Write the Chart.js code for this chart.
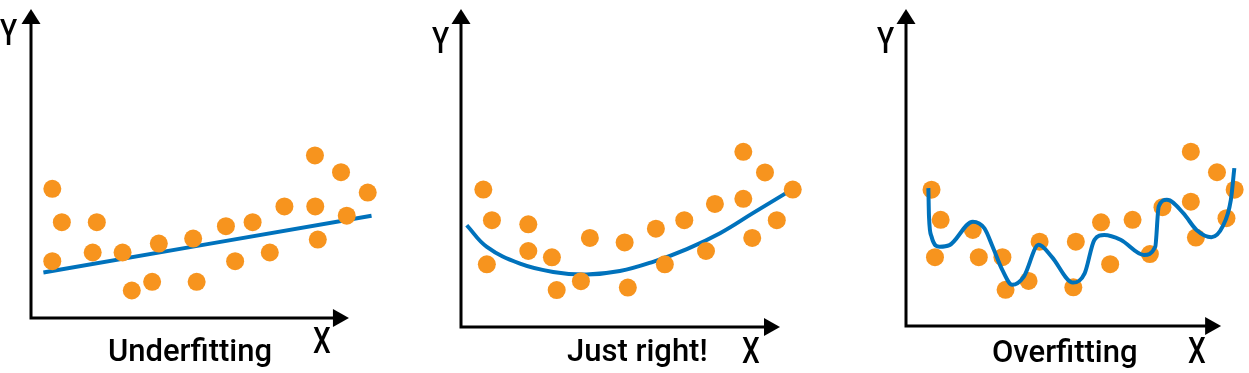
<!DOCTYPE html>
<html>
<head>
<meta charset="utf-8">
<script src="https://cdn.jsdelivr.net/npm/chart.js@4.4.0/dist/chart.umd.min.js"></script>
<style>
  body { margin: 0; background: #fff; }
  #wrap { position: relative; width: 1249px; height: 373px; overflow: hidden; background: #fff; }
  canvas { position: absolute; top: 0; }
  .lbl { position: absolute; font-family: Roboto, "Noto Sans", sans-serif; font-weight: 500; color: #000; line-height: 1; white-space: nowrap; }
  .ax { font-size: 36px; transform: scaleX(0.78); transform-origin: left top; }
  .ttl { font-size: 31px; }
</style>
</head>
<body>
<div id="wrap">
  <canvas id="c1" width="420" height="373" style="left:0px"></canvas>
  <canvas id="c2" width="420" height="373" style="left:420px"></canvas>
  <canvas id="c3" width="409" height="373" style="left:840px"></canvas>

  <div class="lbl ax" style="left:0px;top:15px">Y</div>
  <div class="lbl ax" style="left:313px;top:323px">X</div>
  <div class="lbl ttl" style="left:108px;top:335px">Underfitting</div>

  <div class="lbl ax" style="left:432px;top:23px">Y</div>
  <div class="lbl ax" style="left:742px;top:333px">X</div>
  <div class="lbl ttl" style="left:567px;top:335px">Just right!</div>

  <div class="lbl ax" style="left:877px;top:23px">Y</div>
  <div class="lbl ax" style="left:1188px;top:333px">X</div>
  <div class="lbl ttl" style="left:992px;top:336px">Overfitting</div>
</div>

<script>
// Pontos (x, y), em unidades do eixo (seta = 10)
const underDots = [
  [0.67, 4.18], [0.97, 3.10], [2.07, 3.10], [0.67, 1.84], [1.94, 2.12], [2.88, 2.12],
  [4.02, 2.41], [3.17, 0.89], [3.81, 1.17], [5.10, 2.57], [5.21, 1.17], [6.13, 2.97],
  [6.42, 1.84], [6.97, 3.10], [7.51, 2.12], [7.97, 3.61], [8.93, 5.26], [8.94, 3.61],
  [9.02, 2.54], [9.75, 4.72], [9.93, 3.31], [10.59, 4.06]
];
const underFit = [[0.39, 1.47], [10.71, 3.31]];

const rightDots = [
  [0.70, 4.32], [0.97, 3.36], [0.81, 1.97], [2.11, 3.23], [2.11, 2.39], [2.85, 2.19],
  [3.00, 1.16], [3.76, 1.44], [4.04, 2.80], [5.13, 2.66], [5.23, 1.24], [6.11, 3.09],
  [6.39, 1.97], [7.00, 3.36], [7.68, 2.39], [7.96, 3.87], [8.85, 5.51], [8.85, 4.03],
  [9.13, 2.80], [9.53, 4.86], [9.90, 3.36], [10.40, 4.32]
];
const rightFit = [
  [0.18, 3.20], [0.81, 2.52], [1.85, 1.99], [2.89, 1.73], [3.93, 1.65], [4.98, 1.76],
  [6.02, 2.05], [7.08, 2.45], [8.12, 2.95], [9.15, 3.58], [10.37, 4.32]
];

const overDots = [
  [0.81, 4.30], [1.10, 3.35], [0.92, 2.17], [2.12, 3.03], [2.31, 2.17], [3.06, 2.17],
  [3.16, 1.14], [3.89, 1.42], [4.24, 2.66], [5.39, 2.66], [5.31, 1.22], [6.19, 3.27],
  [6.48, 1.95], [7.19, 3.35], [7.74, 2.27], [8.14, 3.75], [9.04, 5.50], [9.04, 3.92],
  [9.20, 2.79], [9.87, 4.85], [10.17, 3.40], [10.43, 4.30]
];
const overFit = [
  [0.71, 4.35], [0.73, 3.45], [0.81, 2.82], [1.07, 2.50], [1.38, 2.55], [2.12, 3.29],
  [2.49, 3.08], [2.75, 2.50], [3.06, 1.76], [3.37, 1.30], [3.74, 1.56], [4.21, 2.56],
  [4.62, 2.19], [5.30, 1.37], [5.67, 1.66], [5.98, 2.72], [6.29, 2.87], [6.81, 2.72],
  [7.55, 2.24], [7.91, 2.50], [8.02, 3.77], [8.28, 3.98], [8.80, 3.56], [9.22, 3.03],
  [9.69, 2.80], [10.05, 3.14], [10.31, 3.98], [10.42, 4.98]
];

const orange = 'rgb(247, 148, 30)';
const blue = 'rgb(0, 114, 188)';

// Eixos com setas: a ponta fica no valor 10 de cada escala
const axisArrows = {
  id: 'axisArrows',
  beforeDatasetsDraw(chart) {
    const ctx = chart.ctx;
    const x0 = chart.scales.x.getPixelForValue(0);
    const x1 = chart.scales.x.getPixelForValue(10);
    const y0 = chart.scales.y.getPixelForValue(0);
    const y1 = chart.scales.y.getPixelForValue(10);
    ctx.save();
    ctx.strokeStyle = '#000';
    ctx.fillStyle = '#000';
    ctx.lineWidth = 3;
    ctx.lineJoin = 'miter';
    ctx.beginPath();
    ctx.moveTo(x0, y1 + 12);
    ctx.lineTo(x0, y0);
    ctx.lineTo(x1 - 12, y0);
    ctx.stroke();
    ctx.beginPath();
    ctx.moveTo(x0, y1);
    ctx.lineTo(x0 - 9.5, y1 + 15);
    ctx.lineTo(x0 + 9.5, y1 + 15);
    ctx.closePath();
    ctx.fill();
    ctx.beginPath();
    ctx.moveTo(x1, y0);
    ctx.lineTo(x1 - 16, y0 - 9);
    ctx.lineTo(x1 - 16, y0 + 9);
    ctx.closePath();
    ctx.fill();
    ctx.restore();
  }
};

function toPoints(arr) {
  return arr.map(p => ({ x: p[0], y: p[1] }));
}

function makeChart(id, dots, fit, xMax, padding, lineOnTop, smooth) {
  const ctx = document.getElementById(id).getContext('2d');
  return new Chart(ctx, {
    type: 'scatter',
    data: {
      datasets: [{
        label: 'dados',
        data: toPoints(dots),
        backgroundColor: orange,
        borderWidth: 0,
        pointRadius: 9,
        clip: false,
        order: lineOnTop ? 2 : 1
      }, {
        label: 'modelo',
        data: toPoints(fit),
        showLine: true,
        borderColor: blue,
        borderWidth: 4,
        pointRadius: 0,
        cubicInterpolationMode: smooth ? 'monotone' : 'default',
        tension: 0.4,
        clip: false,
        order: lineOnTop ? 1 : 2
      }]
    },
    options: {
      responsive: false,
      animation: false,
      devicePixelRatio: 1,
      layout: { padding: padding },
      plugins: { legend: { display: false }, tooltip: { enabled: false } },
      scales: {
        x: { type: 'linear', min: 0, max: xMax, display: false },
        y: { type: 'linear', min: 0, max: 10, display: false }
      }
    },
    plugins: [axisArrows]
  });
}

makeChart('c1', underDots, underFit, 10.8, { left: 31, top: 2, right: 45.6, bottom: 55 }, false, false);
makeChart('c2', rightDots, rightFit, 10.8, { left: 41, top: 9, right: 34.5, bottom: 46 }, false, false);
makeChart('c3', overDots, overFit, 10.6, { left: 66, top: 9, right: 4.8, bottom: 47 }, true, true);
</script>
</body>
</html>
